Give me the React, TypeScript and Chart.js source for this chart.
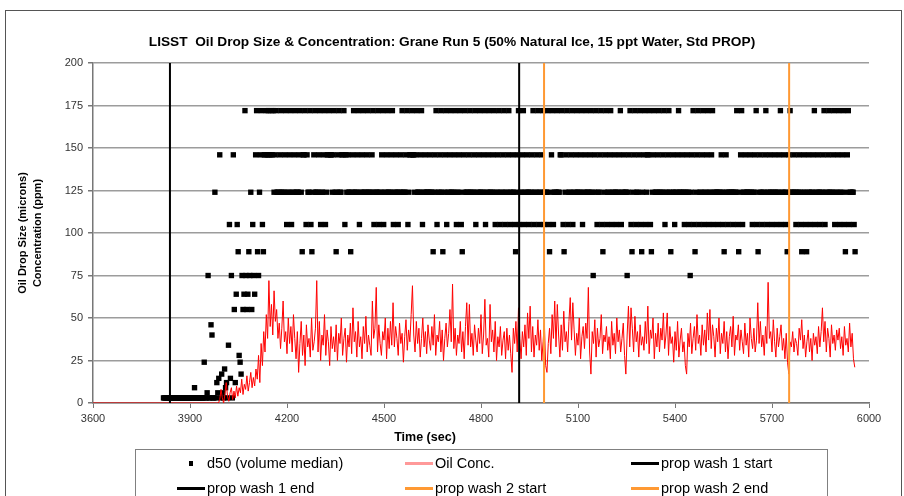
import React, { useEffect, useRef } from 'react';
import { Chart, registerables } from 'chart.js';

Chart.register(...registerables);

const FONT = "'Liberation Sans', Arial, Helvetica, sans-serif";

const chartTitle = 'LISST  Oil Drop Size & Concentration: Grane Run 5 (50% Natural Ice, 15 ppt Water, Std PROP)';
const xAxisTitle = 'Time (sec)';
const yAxisTitle = ['Oil Drop Size (microns)', 'Concentration (ppm)'];

const xMin = 3600;
const xMax = 6000;
const xStep = 300;
const yMin = 0;
const yMax = 200;
const yStep = 25;

// d50 (volume median), microns, one reading every d50Step seconds from d50Start
const d50Start = 3818;
const d50Step = 3;
const d50RampValues = [
  3, 3, 3, 3, 3, 3, 3, 3, 3, 3,
  3, 3, 3, 3, 3, 3, 3, 3, 3, 3,
  3, 3, 3, 3, 3, 3, 3, 3, 3, 3,
  3, 3, 9, 3, 3, 3, 3, 3, 3, 3,
  3, 3, 24, 3, 3, 6, 75, 3, 3, 46,
  40, 3, 3, 124, 3, 12, 6, 14.5, 146, 3,
  17, 6, 3, 20, 9, 12, 3, 34, 105, 14.5,
  75, 3, 146, 55, 12, 64, 105, 89, 28, 24,
  17, 75, 55, 64, 172, 75, 55, 64, 89, 75,
  124, 55, 105, 75,
];
const d50SteadyValues = [
  64, 146, 172, 89, 75, 124, 146, 172, 105, 89, 146, 146, 172, 146, 172, 146, 146, 172, 146, 172,
  124, 146, 172, 124, 124, 124, 146, 172, 124, 124, 124, 146, 172, 105, 124, 124, 146, 172, 105, 124,
  124, 146, 172, 124, 124, 124, 146, 172, 124, 89, 146, 146, 172, 105, 146, 124, 124, 172, 105, 89,
  124, 146, 172, 124, 124, 124, 146, 172, 105, 124, 124, 146, 172, 105, 124, 146, 146, 172, 146, 146,
  124, 146, 172, 124, 89, 124, 146, 172, 124, 124, 146, 146, 172, 105, 146, 124, 146, 124, 124, 89,
  124, 146, 172, 124, 124, 124, 146, 172, 105, 124, 124, 146, 172, 124, 124, 124, 146, 172, 124, 124,
  124, 146, 172, 105, 124, 124, 124, 172, 105, 124, 124, 146, 172, 105, 124, 124, 146, 172, 124, 124,
  124, 146, 172, 105, 124, 124, 146, 124, 105, 124, 124, 146, 172, 124, 124, 124, 146, 172, 105, 124,
  146, 146, 172, 146, 146, 124, 146, 172, 124, 124, 124, 146, 172, 105, 124, 124, 146, 124, 124, 124,
  124, 146, 124, 124, 89, 124, 146, 172, 105, 124, 124, 146, 172, 124, 89, 124, 146, 172, 105, 124,
  124, 146, 172, 124, 124, 124, 146, 172, 105, 124, 124, 146, 172, 105, 89, 124, 146, 172, 124, 124,
  124, 146, 172, 124, 124, 124, 146, 172, 105, 124, 124, 146, 172, 124, 124, 124, 146, 172, 105, 124,
  124, 146, 172, 124, 124, 124, 146, 172, 105, 124, 124, 146, 172, 105, 124, 124, 146, 172, 105, 124,
  124, 146, 172, 105, 124, 124, 146, 124, 105, 89, 124, 146, 172, 105, 124, 124, 146, 172, 105, 124,
  124, 146, 124, 105, 124, 124, 146, 172, 105, 124, 124, 146, 172, 105, 124, 124, 146, 172, 105, 124,
  124, 124, 172, 105, 89, 124, 146, 172, 105, 124, 124, 124, 172, 124, 124, 146, 146, 172, 105, 89,
  124, 146, 172, 105, 124, 124, 146, 172, 105, 124, 124, 146, 172, 124, 124, 124, 146, 172, 105, 124,
  124, 146, 172, 124, 124, 124, 146, 172, 124, 75, 124, 146, 172, 105, 124, 124, 146, 172, 105, 89,
  124, 146, 172, 105, 124, 124, 146, 172, 105, 124, 124, 146, 124, 105, 124, 124, 146, 172, 105, 124,
  124, 146, 124, 124, 75, 124, 146, 172, 105, 89, 124, 146, 172, 105, 124, 124, 146, 172, 105, 89,
  124, 146, 172, 105, 124, 146, 146, 172, 105, 89, 124, 146, 172, 124, 124, 124, 146, 172, 124, 124,
  124, 146, 172, 105, 124, 124, 146, 172, 124, 89, 124, 146, 124, 105, 124, 124, 146, 172, 124, 124,
  124, 146, 124, 105, 124, 124, 146, 124, 105, 75, 124, 146, 172, 105, 89, 124, 146, 172, 105, 124,
  124, 146, 172, 105, 124, 124, 146, 172, 105, 124, 124, 146, 172, 105, 124, 124, 124, 124, 105, 124,
  124, 146, 124, 105, 89, 124, 146, 124, 105, 124, 124, 124, 124, 105, 124, 124, 124, 172, 105, 89,
  124, 146, 172, 105, 124, 124, 146, 124, 124, 124, 124, 146, 124, 105, 124, 124, 146, 172, 105, 89,
  124, 146, 124, 105, 124, 124, 146, 172, 105, 124, 124, 146, 124, 105, 124, 124, 146, 124, 105, 124,
  124, 146, 172, 105, 124, 124, 146, 124, 105, 89, 124, 146, 172, 124, 124, 124, 146, 124, 105, 124,
  124, 146, 124, 105, 89, 124, 146, 124, 105, 89, 124, 146, 124, 105, 124, 124, 146, 172, 105, 124,
  124, 146, 124, 105, 124, 124, 146, 172, 105, 124, 124, 146, 172, 124, 124, 124, 146, 172, 105, 124,
  124, 146, 172, 105, 124, 124, 146, 172, 105, 89, 124, 146, 172, 105, 124, 124, 124, 124, 105, 89,
];

// Oil concentration, ppm: zero from concFlatStart, then one reading every concStep seconds from concStart
const concFlatStart = 3600;
const concStart = 3988;
const concStep = 4;
const concValues = [
  0, 2, 8, 3, 0, 5, 12, 4, 1, 6, 9, 2, 7, 3, 10,
  4, 9, 6, 14, 5, 11, 8, 16, 7, 12, 18, 9, 15, 10, 20,
  14, 28, 12, 35, 22, 42, 30, 52, 38, 72, 45, 58, 40, 66, 48,
  55, 38, 47, 32, 44, 60, 36, 42, 29, 50, 35, 45, 30, 52, 38,
  26, 42, 18, 35, 48, 28, 40, 22, 46, 33, 38, 27, 50, 31, 36,
  44, 72, 30, 48, 25, 40, 34, 52, 28, 43, 36, 22, 45, 32, 39,
  30, 46, 25, 41, 35, 50, 28, 38, 44, 24, 40, 33, 47, 29, 56,
  36, 42, 27, 48, 33, 39, 26, 45, 35, 51, 30, 40, 34, 28, 60,
  38, 44, 68, 30, 46, 35, 28, 42, 37, 50, 26, 44, 32, 48, 34,
  59, 33, 45, 38, 28, 47, 35, 41, 24, 39, 49, 31, 43, 36, 52,
  69, 40, 30, 48, 35, 44, 27, 38, 50, 33, 42, 29, 46, 37, 31,
  45, 34, 52, 28, 40, 36, 48, 30, 43, 25, 38, 47, 33, 41, 55,
  36, 70, 32, 44, 28, 40, 35, 48, 30, 42, 26, 45, 59, 34, 58,
  33, 41, 28, 46, 37, 30, 44, 35, 52, 29, 40, 61, 34, 38, 27,
  58, 36, 43, 30, 48, 25, 39, 33, 45, 28, 37, 42, 26, 44, 31,
  40, 29, 18, 44, 35, 48, 30, 56, 38, 26, 42, 33, 46, 28, 53,
  38, 57, 30, 45, 27, 40, 34, 49, 31, 43, 25, 36, 47, 22, 18,
  35, 44, 29, 52, 38, 60, 33, 58, 40, 27, 46, 31, 54, 36, 42,
  30, 48, 62, 37, 59, 43, 28, 41, 34, 50, 26, 39, 45, 32, 47,
  38, 68, 30, 17, 42, 35, 49, 27, 44, 33, 38, 52, 29, 40, 36,
  45, 31, 39, 26, 48, 34, 41, 29, 50, 36, 43, 30, 38, 47, 28,
  17, 40, 57, 33, 56, 44, 30, 51, 36, 42, 27, 46, 34, 39, 31,
  48, 35, 57, 29, 43, 38, 50, 26, 41, 33, 47, 30, 44, 37, 53,
  32, 40, 53, 28, 45, 35, 39, 24, 42, 31, 48, 27, 37, 44, 30,
  36, 22, 17, 41, 33, 47, 29, 38, 45, 31, 52, 35, 40, 28, 46,
  34, 43, 30, 53, 37, 55, 32, 46, 39, 27, 44, 36, 50, 29, 41,
  35, 48, 30, 42, 26, 39, 45, 33, 51, 28, 40, 37, 46, 31, 43,
  36, 29, 47, 34, 41, 27, 50, 38, 32, 44, 30, 37, 59, 35, 48,
  33, 40, 28, 45, 35, 71, 38, 42, 30, 49, 36, 27, 44, 33, 39,
  46, 31, 38, 26, 41, 24, 17, 36, 33, 42, 30, 38, 35, 28, 44,
  37, 49, 32, 40, 27, 36, 43, 30, 38, 25, 41, 34, 39, 29, 45,
  33, 42, 56, 36, 48, 30, 44, 38, 27, 46, 35, 40, 31, 43, 37,
  44, 32, 39, 28, 45, 34, 38, 30, 47, 33, 41, 26, 21,
];

// Event times (sec)
const propWash1Start = 3838;
const propWash1End = 4918;
const propWash2Start = 4995;
const propWash2End = 5753;

const d50Color = '#000000';
const concColor = '#ff0000';
const wash1Color = '#000000';
const wash2Color = '#ff9933';

type LegendItem = { label: string; kind: 'marker' | 'line'; color: string };
const legendItems: LegendItem[] = [
  { label: 'd50 (volume median)', kind: 'marker', color: d50Color },
  { label: 'Oil Conc.', kind: 'line', color: 'rgba(255,0,0,0.4)' },
  { label: 'prop wash 1 start', kind: 'line', color: wash1Color },
  { label: 'prop wash 1 end', kind: 'line', color: wash1Color },
  { label: 'prop wash 2 start', kind: 'line', color: wash2Color },
  { label: 'prop wash 2 end', kind: 'line', color: wash2Color },
];

const xTitlePlugin = {
  id: 'xTitleText',
  afterDraw(chart: any) {
    const ctx = chart.ctx;
    ctx.save();
    ctx.font = `bold 12.5px ${FONT}`;
    ctx.fillStyle = '#000';
    ctx.textAlign = 'center';
    ctx.textBaseline = 'middle';
    ctx.fillText(xAxisTitle, 425, 438);
    ctx.restore();
  },
};

export default function App() {
  const canvasRef = useRef<HTMLCanvasElement | null>(null);

  useEffect(() => {
    const canvas = canvasRef.current;
    if (!canvas) return;
    const d50Values = [...d50RampValues, ...d50SteadyValues];
    const d50Data = d50Values.map((v, i) => ({ x: d50Start + i * d50Step, y: v }));
    const concData = [
      { x: concFlatStart, y: 0 },
      ...concValues.map((v, i) => ({ x: concStart + i * concStep, y: v })),
    ];
    const vline = (t: number) => [
      { x: t, y: yMin },
      { x: t, y: yMax },
    ];
    const lineDs = (label: string, t: number, color: string) => ({
      label,
      data: vline(t),
      showLine: true,
      borderColor: color,
      backgroundColor: color,
      borderWidth: 2,
      pointRadius: 0,
      pointHoverRadius: 0,
      order: 1,
    });

    const chart = new Chart(canvas, {
      type: 'scatter',
      data: {
        datasets: [
          {
            label: 'd50 (volume median)',
            data: d50Data,
            showLine: false,
            pointStyle: 'rect',
            pointRadius: 3.8,
            pointHoverRadius: 3.8,
            backgroundColor: d50Color,
            borderColor: d50Color,
            borderWidth: 0,
            order: 3,
          },
          {
            label: 'Oil Conc.',
            data: concData,
            showLine: true,
            borderColor: concColor,
            backgroundColor: concColor,
            borderWidth: 1,
            pointRadius: 0,
            pointHoverRadius: 0,
            tension: 0,
            order: 2,
          },
          lineDs('prop wash 1 start', propWash1Start, wash1Color),
          lineDs('prop wash 1 end', propWash1End, wash1Color),
          lineDs('prop wash 2 start', propWash2Start, wash2Color),
          lineDs('prop wash 2 end', propWash2End, wash2Color),
        ] as any,
      },
      options: {
        responsive: false,
        animation: false,
        events: [],
        layout: { padding: { left: 0, right: 0, top: 0, bottom: 48 } },
        plugins: {
          legend: { display: false },
          tooltip: { enabled: false },
          title: {
            display: true,
            text: chartTitle,
            color: '#000',
            font: { family: FONT, size: 13.7, weight: 'bold' },
            padding: { top: 33.8, bottom: 12.8 },
          },
        },
        scales: {
          x: {
            type: 'linear',
            position: 'bottom',
            min: xMin,
            max: xMax,
            ticks: {
              stepSize: xStep,
              color: '#333',
              font: { family: FONT, size: 11 },
              padding: 4,
              maxRotation: 0,
              autoSkip: false,
              callback: (v: any) => String(v),
            },
            grid: { drawOnChartArea: false, drawTicks: true, tickLength: 5, tickColor: '#777' },
            border: { display: true, color: '#777', width: 1.5 },
            title: { display: false },
            afterFit: (s: any) => {
              s.height = 45;
            },
          },
          y: {
            type: 'linear',
            min: yMin,
            max: yMax,
            ticks: {
              stepSize: yStep,
              color: '#333',
              font: { family: FONT, size: 11 },
              padding: 5,
              callback: (v: any) => String(v),
            },
            grid: { color: '#9c9c9c', lineWidth: 1.5, tickLength: 5, tickColor: '#777' },
            border: { display: true, color: '#777', width: 1.5 },
            title: {
              display: true,
              text: yAxisTitle,
              color: '#000',
              font: { family: FONT, size: 11, weight: 'bold', lineHeight: 1.35 },
              padding: { top: 15.5, bottom: 0 },
            },
            afterFit: (s: any) => {
              s.width = 93;
            },
          },
          ySpacer: {
            type: 'linear',
            position: 'right',
            display: true,
            ticks: { display: false },
            grid: { display: false, drawOnChartArea: false, drawTicks: false },
            border: { display: false },
            afterFit: (s: any) => {
              s.width = 35;
            },
          },
        },
      } as any,
      plugins: [xTitlePlugin],
    });
    return () => chart.destroy();
  }, []);

  const colX = [41, 269, 495];
  const rowY = [13, 38];

  return (
    <div
      style={{
        position: 'fixed',
        left: 0,
        top: 0,
        width: 904,
        height: 496,
        background: '#fff',
        overflow: 'hidden',
        fontFamily: FONT,
      }}
    >
      <div
        style={{
          position: 'absolute',
          left: 5,
          top: 10,
          width: 895,
          height: 520,
          border: '1px solid #555',
        }}
      />
      <canvas
        ref={canvasRef}
        width={904}
        height={496}
        style={{ position: 'absolute', left: 0, top: 0, width: 904, height: 496, display: 'block' }}
      />
      <div
        style={{
          position: 'absolute',
          left: 135,
          top: 449,
          width: 691,
          height: 70,
          border: '1px solid #808080',
        }}
      >
        {legendItems.map((it, i) => {
          const col = i % 3;
          const row = Math.floor(i / 3);
          return (
            <div
              key={it.label}
              style={{
                position: 'absolute',
                left: colX[col],
                top: rowY[row] - 10,
                height: 20,
                display: 'flex',
                alignItems: 'center',
                whiteSpace: 'nowrap',
                fontSize: 14.5,
                color: '#000',
              }}
            >
              <span style={{ position: 'relative', display: 'inline-block', width: 28, height: 20 }}>
                {it.kind === 'marker' ? (
                  <span
                    style={{
                      position: 'absolute',
                      left: 12,
                      top: 8,
                      width: 4,
                      height: 5,
                      background: it.color,
                    }}
                  />
                ) : (
                  <span
                    style={{
                      position: 'absolute',
                      left: 0,
                      top: 9,
                      width: 28,
                      height: 2.5,
                      background: it.color,
                    }}
                  />
                )}
              </span>
              <span style={{ marginLeft: 2 }}>{it.label}</span>
            </div>
          );
        })}
      </div>
    </div>
  );
}
